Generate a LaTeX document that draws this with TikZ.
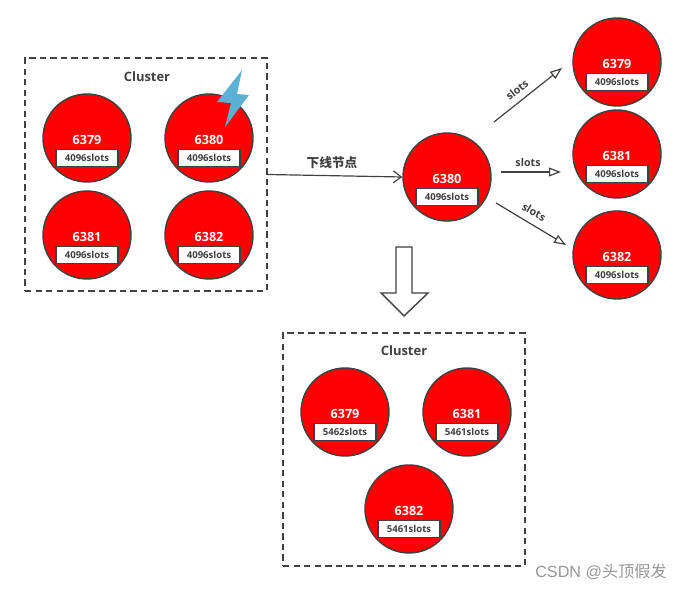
\documentclass[tikz,border=0pt]{standalone}
\usepackage{fontspec}
\setmainfont{Open Sans}
\newfontfamily\cjkfont{Noto Sans CJK SC}
\newfontfamily\markfont{Liberation Sans}
\usepackage{xcolor}
\usetikzlibrary{arrows.meta,positioning}
\definecolor{nodered}{RGB}{255,0,0}
\definecolor{lineblack}{RGB}{64,64,64}
\definecolor{boltblue}{RGB}{91,176,212}
\definecolor{markgray}{RGB}{150,150,150}
\tikzset{
  redport/.style={circle, draw=lineblack, fill=nodered, line width=1pt, minimum size=2.2cm, inner sep=0pt},
  porttext/.style={font=\fontsize{9}{10}\selectfont\bfseries, text=white, inner sep=0pt},
  slotbox/.style={rectangle, draw=lineblack, fill=white, line width=0.9pt, minimum width=1.55cm, minimum height=0.42cm, inner sep=0pt, font=\fontsize{6.8}{8}\selectfont\bfseries, text=lineblack},
  clusterbox/.style={rectangle, draw=lineblack, dash pattern=on 4.5pt off 3pt, line width=0.9pt, minimum width=6.05cm, minimum height=5.825cm},
  labeltext/.style={font=\fontsize{7.6}{9}\selectfont\bfseries, text=lineblack, inner sep=0pt},
  slotarrow/.style={-{Triangle[open,length=3mm,width=2.2mm]}, line width=0.85pt, draw=lineblack}
}
\begin{document}
\begin{tikzpicture}
\useasboundingbox (0,0) rectangle (17.125,14.75);
% clusters
\node[clusterbox] (clustertop) at (3.65,10.3875) {};
\node[clusterbox] (clusterbottom) at (10.1,3.5125) {};
\node[labeltext, font=\fontsize{9.2}{10}\selectfont\bfseries] (clustertoplabel) at (3.675,12.825) {Cluster};
\node[labeltext, font=\fontsize{9.2}{10}\selectfont\bfseries] (clusterbottomlabel) at (10.1,5.975) {Cluster};
% redis nodes
\foreach \n/\x/\y/\p/\s in {
  a/2.175/11.3/6379/4096, b/5.225/11.3/6380/4096, c/2.175/8.875/6381/4096, d/5.225/8.875/6382/4096,
  mid/11.175/10.325/6380/4096,
  ra/15.425/13.2/6379/4096, rb/15.425/10.9/6381/4096, rc/15.425/8.375/6382/4096,
  la/8.625/4.45/6379/5462, lb/11.675/4.45/6381/5461, lc/10.225/2.025/6382/5461}{
  \node[redport] (\n) at (\x,\y) {};
  \node[porttext] (\n-port) at (\x,\y-0.05) {\p};
  \node[slotbox] (\n-slots) at (\x,\y-0.5) {\s slots};
}
% failed node
\fill[boltblue] (6.05,13) -- (5.425,12.2) -- (5.775,12.175) -- (5.625,11.575) -- (6.225,12.375) -- (5.925,12.4) -- cycle;
% connectors
\draw[-{Straight Barb[length=2mm,width=3mm]}, line width=0.85pt, lineblack] (clustertop.east) -- (mid.west);
\node[labeltext, font=\fontsize{9}{10}\selectfont\bfseries] (offline) at (8.3,10.675) {\cjkfont 下线节点};
\coordinate (upstart) at (12.35,11.7);
\coordinate (upend) at (14.05,13.05);
\coordinate (midstart) at (12.525,10.45);
\coordinate (midend) at (14.025,10.45);
\coordinate (downstart) at (12.4,9.675);
\coordinate (downend) at (14.15,8.625);
\draw[slotarrow] (upstart) -- (upend);
\draw[slotarrow] (midstart) -- (midend);
\draw[slotarrow] (downstart) -- (downend);
\node[labeltext, rotate=38] (uplabel) at (12.925,12.5) {slots};
\node[labeltext] (midlabel) at (13.2,10.7) {slots};
\node[labeltext, rotate=-30] (downlabel) at (13.35,9.45) {slots};
% big arrow
\draw[line width=1pt, lineblack, fill=white] (9.9,8.575) -- (10.3,8.575) -- (10.3,7.425) -- (10.7,7.425) -- (10.1,6.85) -- (9.525,7.425) -- (9.9,7.425) -- cycle;
\node[font=\fontsize{11.5}{13}\selectfont, text=markgray, inner sep=0pt] (watermark) at (15.025,0.45) {\markfont CSDN @\cjkfont 头顶假发};
\end{tikzpicture}
\end{document}
